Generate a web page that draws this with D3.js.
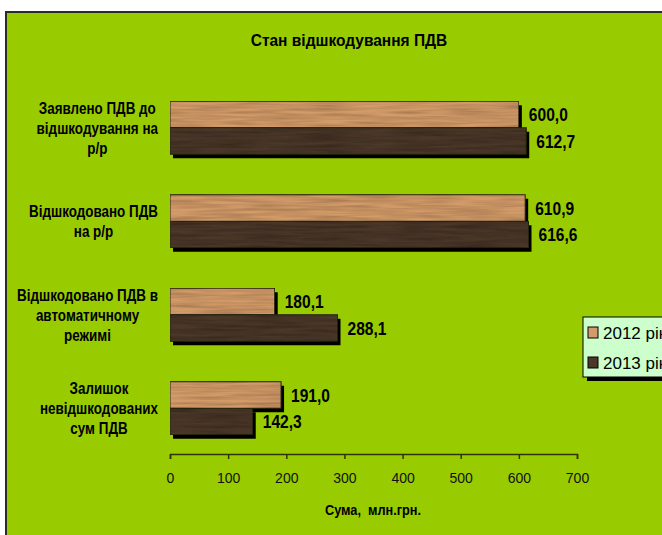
<!DOCTYPE html>
<html>
<head>
<meta charset="utf-8">
<script src="https://cdn.jsdelivr.net/npm/d3@7"></script>
<style>
  body { margin: 0; background: #fff; }
  svg { display: block; }
</style>
</head>
<body>
<script>
// chart data
var categories = [
  "Заявлено ПДВ до\nвідшкодування на\nр/р",
  "Відшкодовано ПДВ\nна р/р",
  "Відшкодовано ПДВ в\nавтоматичному\nрежимі",
  "Залишок\nневідшкодованих\nсум ПДВ"
];
var years = ["2012 рік", "2013 рік"];
var values2012 = [600.0, 610.9, 180.1, 191.0];
var values2013 = [612.7, 616.6, 288.1, 142.3];
var xTicks = [0, 100, 200, 300, 400, 500, 600, 700];

var W = 662, H = 535;
var font = "'Liberation Sans', Arial, sans-serif";

var svg = d3.select("body").append("svg").attr("width", W).attr("height", H);

// text squeezed horizontally (the original uses a narrow face)
function ntext(parent, x, y, size, sx, anchor, str) {
  var g = parent.append("g").attr("transform", "translate(" + x + "," + y + ") scale(" + sx + ",1)");
  return g.append("text").attr("text-anchor", anchor).attr("dy", "0.36em")
    .attr("font-family", font).attr("font-weight", "bold").attr("font-size", size)
    .text(str);
}

var defs = svg.append("defs");
var f = defs.append("filter").attr("id", "grain")
  .attr("x", 0).attr("y", 0).attr("width", 1).attr("height", 1);
f.append("feTurbulence").attr("type", "fractalNoise")
  .attr("baseFrequency", "0.02 0.35").attr("numOctaves", 2).attr("seed", 4).attr("result", "n");
f.append("feColorMatrix").attr("in", "n").attr("type", "matrix")
  .attr("values", "0 0 0 0 0  0 0 0 0 0  0 0 0 0 0  0.7 0 0 0 -0.2").attr("result", "g");
f.append("feComposite").attr("in", "g").attr("in2", "SourceGraphic").attr("operator", "in").attr("result", "gc");
var m = f.append("feMerge");
m.append("feMergeNode").attr("in", "SourceGraphic");
m.append("feMergeNode").attr("in", "gc");

// background frame
svg.append("rect").attr("x", 6).attr("y", 12).attr("width", W).attr("height", H)
  .attr("fill", "#99cc00").attr("stroke", "#2b2b2b").attr("stroke-width", 2);

var x = d3.scaleLinear().domain([0, 700]).range([170, 577]);
var y0 = d3.scaleBand().domain(categories).range([81, 455]).padding(0);
var y1 = d3.scaleBand().domain(years).range([0, y0.bandwidth()]).paddingInner(0).paddingOuter(0.764);
var colors = d3.scaleOrdinal().domain(years).range(["#d39b69", "#4b3829"]);

var rows = [];
categories.forEach(function(c, i) {
  rows.push({cat: c, year: years[0], v: values2012[i]});
  rows.push({cat: c, year: years[1], v: values2013[i]});
});

ntext(svg, 349, 40, 16, 0.97, "middle", "Стан відшкодування ПДВ");

// shadows first, then bars
svg.append("g").selectAll("rect").data(rows).enter().append("rect")
  .attr("x", x(0) + 3)
  .attr("y", function(d) { return y0(d.cat) + y1(d.year) + 4; })
  .attr("width", function(d) { return x(d.v) - x(0); })
  .attr("height", y1.bandwidth())
  .attr("fill", "#000");

svg.append("g").selectAll("rect").data(rows).enter().append("rect")
  .attr("x", x(0))
  .attr("y", function(d) { return y0(d.cat) + y1(d.year); })
  .attr("width", function(d) { return x(d.v) - x(0); })
  .attr("height", y1.bandwidth())
  .attr("fill", function(d) { return colors(d.year); })
  .attr("stroke", "#2a2a14").attr("stroke-width", 1)
  .attr("filter", "url(#grain)");

var fmt = d3.format(".1f");
var valG = svg.append("g");
rows.forEach(function(d) {
  ntext(valG, x(d.v) + 10, y0(d.cat) + y1(d.year) + y1.bandwidth() / 2, 19, 0.82, "start",
    fmt(d.v).replace(".", ","));
});

// category labels: block right edge at 158, lines centred
var catG = svg.append("g");
var sxCat = 0.84;
categories.forEach(function(c) {
  var lines = c.split("\n");
  var cy = y0(c) + y0.bandwidth() / 2;
  var g = catG.append("g").attr("transform", "translate(0," + cy + ") scale(" + sxCat + ",1)");
  var t = g.append("text").attr("font-family", font).attr("font-weight", "bold")
    .attr("font-size", 16).attr("text-anchor", "middle");
  var spans = lines.map(function(l, i) {
    return t.append("tspan").attr("y", (i - (lines.length - 1) / 2) * 20).attr("dy", "0.36em").text(l);
  });
  var maxW = d3.max(spans, function(s) { return s.node().getComputedTextLength(); });
  spans.forEach(function(s) { s.attr("x", 158 / sxCat - maxW / 2); });
});

// x axis
var axis = svg.append("g").attr("transform", "translate(0,454)")
  .call(d3.axisBottom(x).tickValues(xTicks).tickSize(5).tickPadding(14).tickFormat(d3.format("d")));
axis.select(".domain").attr("stroke", "#333300").attr("stroke-width", 1.5);
axis.selectAll(".tick line").attr("stroke", "#333300").attr("stroke-width", 1.5);
axis.selectAll(".tick text").attr("font-family", font).attr("font-size", 14).attr("fill", "#111");

ntext(svg, 373, 510, 15, 0.85, "middle", "Сума,  млн.грн.").style("white-space", "pre");

// legend (runs off the right edge, as in the original)
var lg = svg.append("g");
lg.append("rect").attr("x", 587).attr("y", 321).attr("width", 100).attr("height", 60).attr("fill", "#000");
lg.append("rect").attr("x", 583).attr("y", 317).attr("width", 100).attr("height", 60)
  .attr("fill", "#ccffcc").attr("stroke", "#000").attr("stroke-width", 1);
years.forEach(function(yr, i) {
  var cy = 333 + i * 30;
  lg.append("rect").attr("x", 588).attr("y", cy - 6).attr("width", 10).attr("height", 11)
    .attr("fill", colors(yr)).attr("stroke", "#000").attr("stroke-width", 1);
  lg.append("text").attr("x", 603).attr("y", cy).attr("dy", "0.36em")
    .attr("font-family", font).attr("font-size", 17).text(yr);
});
</script>
</body>
</html>
